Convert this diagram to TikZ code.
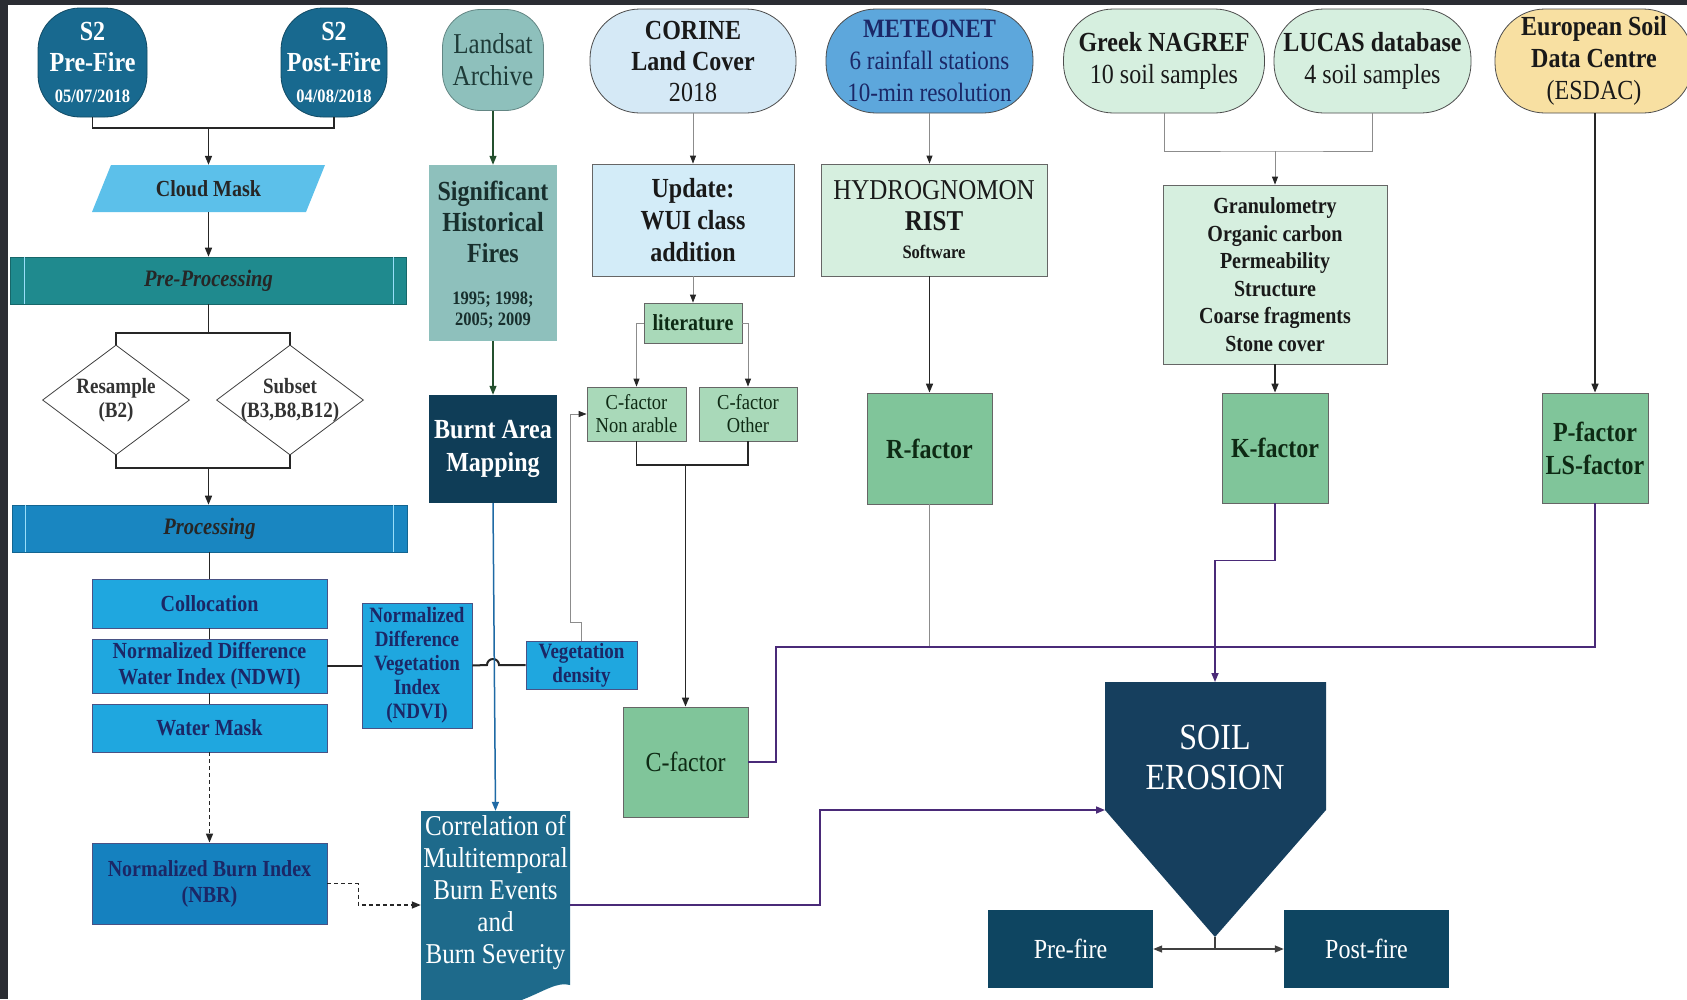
\documentclass[tikz,border=0pt]{standalone}
\usepackage{fontspec}
\setmainfont{Liberation Serif}[FakeStretch=0.87, Scale=1.15]
\usetikzlibrary{arrows.meta,shapes.geometric}
\definecolor{framec}{HTML}{2B2D33}
\definecolor{stwo}{HTML}{18698F}
\definecolor{cloudc}{HTML}{5CC0EA}
\definecolor{prepc}{HTML}{1F8A8E}
\definecolor{procc}{HTML}{1986C1}
\definecolor{skyc}{HTML}{1FA7DF}
\definecolor{nbrc}{HTML}{1581BF}
\definecolor{navyt}{HTML}{1B2766}
\definecolor{sagec}{HTML}{8EC0BC}
\definecolor{saget}{HTML}{1E3B38}
\definecolor{burntc}{HTML}{0F3D57}
\definecolor{corrc}{HTML}{1E6A8B}
\definecolor{corinec}{HTML}{D5E9F6}
\definecolor{updc}{HTML}{D3ECF8}
\definecolor{meteoc}{HTML}{5DA7DC}
\definecolor{mintc}{HTML}{D6EFDF}
\definecolor{litc}{HTML}{A9D9B9}
\definecolor{facc}{HTML}{80C59A}
\definecolor{esdacc}{HTML}{F8E0A2}
\definecolor{soilc}{HTML}{163F5E}
\definecolor{firec}{HTML}{0E4561}
\definecolor{purp}{HTML}{4A2A78}
\definecolor{linkg}{HTML}{8C8C8C}
\definecolor{bluel}{HTML}{1F6AA5}
\definecolor{greent}{HTML}{0E2A14}
\definecolor{leafl}{HTML}{24502E}
\newcommand\fbig{\fontsize{24}{31}\selectfont}
\newcommand\fmid{\fontsize{20}{26}\selectfont}
\newcommand\fsm{\fontsize{19}{24}\selectfont}
\newcommand\ftiny{\fontsize{16.5}{21}\selectfont}
\newcommand\fhigh{\fontsize{32}{40}\selectfont}
\tikzset{
  every node/.style={inner sep=0pt, align=center},
  sz/.style 2 args={minimum width=#1pt, minimum height=#2pt},
  tip/.style={-{Triangle[length=9pt,width=7pt]}},
  gtip/.style={-{Triangle[length=8pt,width=6pt,color=black!85]}},
  heavy/.style={line width=1.5pt, black!85},
  faint/.style={line width=0.9pt, linkg},
  violet/.style={line width=1.6pt, purp},
  terminal/.style={rectangle, rounded corners=#1, draw=black!70, line width=0.8pt},
  sky/.style={rectangle, fill=skyc, draw=navyt!80, line width=0.8pt, font=\fmid\bfseries, text=navyt},
  mint/.style={rectangle, fill=mintc, draw=black!60, line width=0.8pt},
  leaf/.style={rectangle, fill=litc, draw=black!60, line width=0.8pt, text=greent},
  factor/.style={rectangle, fill=facc, draw=black!60, line width=0.8pt, font=\fbig\bfseries, text=greent},
  bar/.style={rectangle, fill=#1, draw=#1!75!black, line width=0.6pt, font=\fontsize{20.5}{26}\selectfont\bfseries\itshape, text=black!85},
  decision/.style={diamond, draw=black!75, fill=white, line width=0.8pt},
  dark/.style={rectangle, fill=#1, text=white},
}
\begin{document}
\begin{tikzpicture}[x=1pt, y=-1pt]
  \useasboundingbox (0,0) rectangle (1687,999);
  \fill[white] (0,0) rectangle (1687,999);
  \fill[framec] (0,0) rectangle (1687,5);
  \fill[framec] (0,0) rectangle (8,999);

  \node[terminal=42pt, fill=stwo, draw=stwo!70!black, sz={109}{109}, text=white, font=\fbig\bfseries] (s2pre) at (92.5,62.5) {S2\\Pre-Fire\\{\ftiny 05/07/2018}};
  \node[terminal=42pt, fill=stwo, draw=stwo!70!black, sz={106}{109}, text=white, font=\fbig\bfseries] (s2post) at (334,62.5) {S2\\Post-Fire\\{\ftiny 04/08/2018}};
  \coordinate (s2join) at (208.5,128);

  \fill[cloudc] (111,165) -- (325,165) -- (306,212) -- (92,212) -- cycle;
  \node[sz={214}{47}, font=\fmid\bfseries, text=black!85] (cloud) at (208.5,188.5) {Cloud Mask};
  \node[bar=prepc, sz={396}{47}] (prep) at (208.5,280.5) {Pre-Processing};
  \coordinate (pjoin) at (208.5,333);

  \node[decision, sz={147}{110}] (resample) at (116,400) {};
  \node[font=\fsm\bfseries, text=black!80] (resampletxt) at (resample) {Resample\\(B2)};
  \node[decision, sz={147}{110}] (subset) at (290,400) {};
  \node[font=\fsm\bfseries, text=black!80] (subsettxt) at (subset) {Subset\\(B3,B8,B12)};
  \coordinate (djoin) at (208.5,468);

  \node[bar=procc, sz={395}{47}] (proc) at (209.5,528.5) {Processing};
  \foreach \b in {prep,proc}{
    \draw[white!60!cyan, line width=0.6pt] ([xshift=14pt]\b.north west) -- ([xshift=14pt]\b.south west);
    \draw[white!60!cyan, line width=0.6pt] ([xshift=-14pt]\b.north east) -- ([xshift=-14pt]\b.south east);
  }

  \node[sky, sz={235}{49}] (coll) at (209.5,603.5) {Collocation};
  \node[sky, sz={235}{54}] (ndwi) at (209.5,666) {Normalized Difference\\Water Index (NDWI)};
  \node[sky, sz={235}{48}] (wmask) at (209.5,728) {Water Mask};
  \node[sky, fill=nbrc, sz={235}{81}] (nbr) at (209.5,883.5) {Normalized Burn Index\\(NBR)};
  \node[sky, sz={110}{125}, font=\fsm\bfseries] (ndvi) at (417,665.5) {Normalized\\Difference\\Vegetation\\Index\\(NDVI)};
  \node[sky, sz={111}{48}, font=\fsm\bfseries] (vegd) at (581.5,665) {Vegetation\\density};

  \node[terminal=38pt, fill=sagec, draw=sagec!70!black, sz={101}{101}, text=saget, font=\fontsize{25}{32}\selectfont] (landsat) at (493,60) {Landsat\\Archive};
  \node[rectangle, fill=sagec, sz={128}{176}] (fires) at (493,253) {};
  \node[font=\fbig\bfseries, text=saget!80!black] (firestxt) at (493,222) {Significant\\Historical\\Fires};
  \node[text=saget!80!black, font=\ftiny\bfseries] (firesyears) at (493,310) {1995; 1998;\\2005; 2009};
  \node[dark=burntc, sz={128}{108}, font=\fontsize{24}{33}\selectfont\bfseries] (burnt) at (493,449) {Burnt Area\\Mapping};

  \fill[corrc] (421,811) -- (570,811) -- (570,985) .. controls (545,978) and (520,1022) .. (421,1010) -- cycle;
  \node[sz={149}{188}] (corr) at (495.5,905) {};
  \node[text=white, font=\fontsize{25}{32}\selectfont] (corrtxt) at (495.5,892) {Correlation of\\Multitemporal\\Burn Events\\and\\Burn Severity};

  \node[terminal=50pt, fill=corinec, sz={206}{104}, font=\fbig, text=black!90] (corine) at (693,61) {\textbf{CORINE}\\\textbf{Land Cover}\\2018};
  \node[mint, fill=updc, sz={202}{112}, font=\fontsize{24}{32}\selectfont\bfseries, text=black!90] (update) at (693,220) {Update:\\WUI class\\addition};
  \node[leaf, sz={98}{40}, font=\fmid\bfseries] (lit) at (693,323) {literature};
  \node[leaf, sz={99}{54}, font=\fontsize{18.5}{23}\selectfont] (nonar) at (636.5,414) {C-factor\\Non arable};
  \node[leaf, sz={98}{54}, font=\fontsize{18.5}{23}\selectfont] (other) at (748,414) {C-factor\\Other};
  \coordinate (cjoin) at (685.5,465);
  \node[factor, font=\fbig, sz={125}{110}] (cfac) at (685.5,762) {C-factor};

  \node[terminal=50pt, fill=meteoc, sz={207}{104}, font=\fontsize{23}{32}\selectfont, text=navyt] (meteo) at (929.5,61) {\textbf{METEONET}\\6 rainfall stations\\10-min resolution};
  \node[mint, sz={226}{112}, font=\fontsize{25}{31}\selectfont, text=black!90] (hydro) at (934,220) {HYDROGNOMON\\\textbf{RIST}\\[-3pt]{\ftiny\bfseries Software}};
  \node[factor, sz={125}{111}] (rfac) at (929.5,448.5) {R-factor};

  \node[terminal=50pt, fill=mintc, sz={201}{104}, font=\fontsize{24}{32}\selectfont, text=black!90] (greek) at (1164,61) {\textbf{Greek NAGREF}\\10 soil samples};
  \node[terminal=50pt, fill=mintc, sz={197}{104}, font=\fontsize{24}{32}\selectfont, text=black!90] (lucas) at (1372.5,61) {\textbf{LUCAS database}\\4 soil samples};
  \coordinate (gjoin) at (1275,151);
  \node[mint, sz={224}{179}, font=\fontsize{20}{27.5}\selectfont\bfseries, text=black!90] (granul) at (1275,274.5) {Granulometry\\Organic carbon\\Permeability\\Structure\\Coarse fragments\\Stone cover};
  \node[factor, sz={106}{110}] (kfac) at (1275,448) {K-factor};

  \node[terminal=50pt, fill=esdacc, sz={198}{104}, font=\fontsize{24}{32}\selectfont, text=black!90] (esdac) at (1594,61) {\textbf{European Soil}\\\textbf{Data Centre}\\(ESDAC)};
  \node[factor, sz={106}{110}, font=\fontsize{24}{33}\selectfont\bfseries] (pfac) at (1595,448) {P-factor\\LS-factor};
  \coordinate (mline) at (776,647);

  \fill[soilc] (1105,682) -- (1326,682) -- (1326,810) -- (1215,937) -- (1105,810) -- cycle;
  \coordinate (soiltop) at (1215,682);
  \coordinate (soilw) at (1105,810);
  \coordinate (soiltip) at (1215,937);
  \node[text=white, font=\fhigh] (soil) at (1215,757) {SOIL\\EROSION};
  \node[dark=firec, sz={165}{78}, font=\fbig] (prefire) at (1070.5,949) {Pre-fire};
  \node[dark=firec, sz={165}{78}, font=\fbig] (postfire) at (1366.5,949) {Post-fire};

  \draw[heavy] (s2pre.south) |- (s2join) -| (s2post.south);
  \draw[heavy, tip] (s2join) -- (cloud.north);
  \draw[heavy, tip] (cloud.south) -- (cloud.south |- prep.north);
  \draw[heavy] (prep.south) -- (pjoin);
  \draw[heavy] (resample.north) |- (pjoin) -| (subset.north);
  \draw[heavy] (resample.south) |- (djoin) -| (subset.south);
  \draw[heavy, tip] (djoin) -- (djoin |- proc.north);
  \draw[heavy] (proc.south) -- (coll.north);
  \draw[heavy] (coll.south) -- (ndwi.north);
  \draw[heavy] (ndwi.south) -- (wmask.north);
  \draw[heavy, tip, dash pattern=on 4pt off 3pt] (wmask.south) -- (nbr.north);
  \draw[heavy, tip, dash pattern=on 4pt off 3pt] (nbr.east) -- ++(31,0) |- (corr.west);
  \draw[heavy, line width=2pt] (ndwi.east) -- (ndwi.east -| ndvi.west);
  \draw[heavy, line width=2pt] (ndvi.east) -- (487,665) arc[start angle=180, end angle=360, radius=6] -- (vegd.west);
  \draw[faint, gtip] (vegd.north) -- ++(0,-18) -- ++(-11,0) |- (nonar.west);

  \draw[line width=1.2pt, leafl, tip] (landsat.south) -- (fires.north);
  \draw[line width=1.2pt, leafl, tip] (fires.south) -- (burnt.north);
  \draw[line width=1.5pt, bluel, tip] (burnt.south) -- (corr.north);
  \draw[violet, tip] (corr.east) -- ++(250,0) |- (soilw);

  \draw[faint, gtip] (corine.south) -- (update.north);
  \draw[faint, gtip] (update.south) -- (lit.north);
  \draw[faint, gtip] (lit.west) -| (nonar.north);
  \draw[faint, gtip] (lit.east) -| (other.north);
  \draw[heavy] (nonar.south) |- (cjoin) -| (other.south);
  \draw[heavy, tip] (cjoin) -- (cfac.north);

  \draw[faint, gtip] (meteo.south) -- (meteo.south |- hydro.north);
  \draw[heavy, tip] (rfac.north |- hydro.south) -- (rfac.north);
  \draw[faint] (rfac.south) -- (rfac.south |- mline);

  \draw[faint] (greek.south) |- (gjoin) -| (lucas.south);
  \draw[faint, gtip] (gjoin) -- (granul.north);
  \draw[heavy, tip] (granul.south) -- (kfac.north);
  \draw[violet, tip] (kfac.south) -- ++(0,57) -| (soiltop);

  \draw[heavy, tip] (pfac.north |- esdac.south) -- (pfac.north);
  \draw[violet] (cfac.east) -| (mline) -- (pfac.south |- mline) -- (pfac.south);

  \draw[line width=1.4pt, black!75] (soiltip) -- (soiltip |- prefire.east);
  \draw[line width=1.4pt, black!75, {Triangle[length=9pt,width=7pt]}-{Triangle[length=9pt,width=7pt]}] (prefire.east) -- (postfire.west);
\end{tikzpicture}
\end{document}
